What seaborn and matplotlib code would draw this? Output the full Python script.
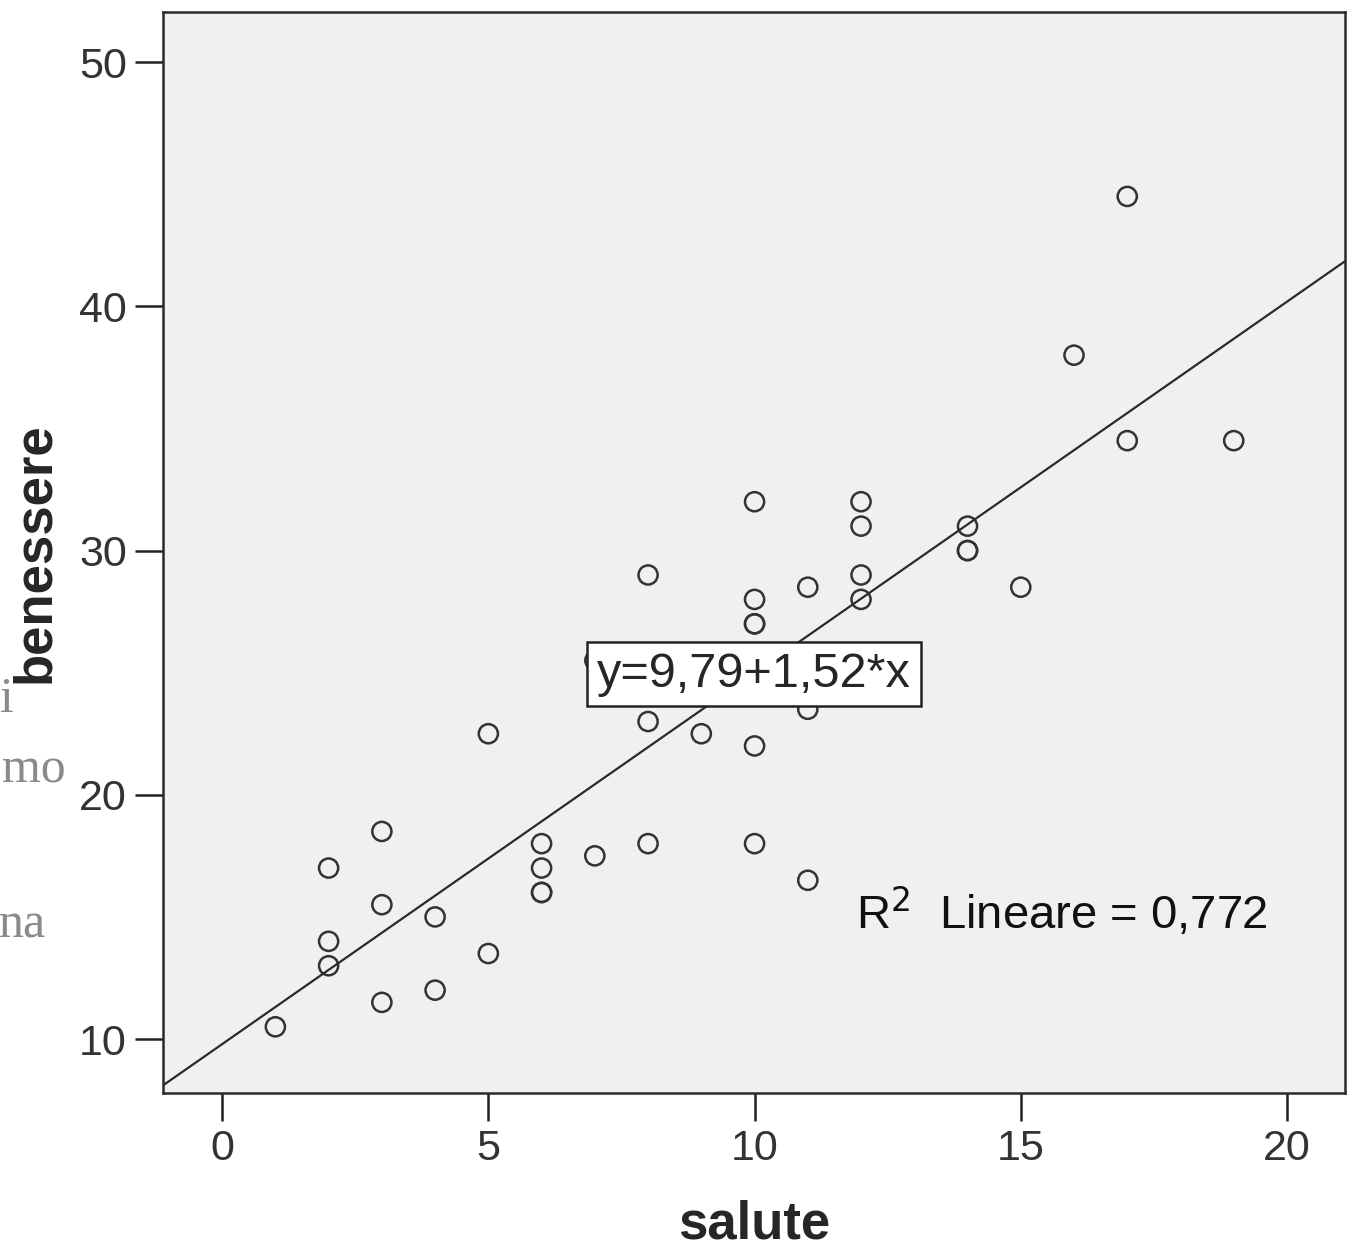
import numpy as np
import pandas as pd
import matplotlib
matplotlib.use("Agg")
import matplotlib.pyplot as plt
import seaborn as sns

# data
salute = [1, 2, 2, 2, 3, 3, 3, 4, 4, 5, 5, 6, 6, 6, 6, 7, 7, 8, 8, 8, 9,
          10, 10, 10, 10, 10, 10, 11, 11, 11, 12, 12, 12, 12, 14, 14, 14,
          15, 16, 17, 17, 19]
benessere = [10.5, 17, 14, 13, 18.5, 15.5, 11.5, 15, 12, 22.5, 13.5, 18, 17,
             16, 16, 17.5, 25.5, 29, 23, 18, 22.5, 32, 28, 27, 27, 22, 18,
             28.5, 23.5, 16.5, 32, 31, 29, 28, 31, 30, 30, 28.5, 38, 44.5,
             34.5, 34.5]
intercept = 9.79
slope = 1.52
r2 = "0,772"
x_ticks = [0, 5, 10, 15, 20]
y_ticks = [10, 20, 30, 40, 50]

df = pd.DataFrame({"salute": salute, "benessere": benessere})

sns.set_style("white")
plt.rcParams["font.family"] = ["Liberation Sans", "DejaVu Sans"]

fig = plt.figure(figsize=(13.53, 12.53), dpi=100)
ax = fig.add_axes([0.1205, 0.1277, 0.8736, 0.8627])
ax.set_facecolor("#f0f0f0")

sns.scatterplot(data=df, x="salute", y="benessere", ax=ax, marker="o",
                s=190, facecolor="none", edgecolor="#333333", linewidth=1.8)
ax.axline((0, intercept), slope=slope, color="#2a2a2a", linewidth=1.6, zorder=1)

ax.set_xlim(-1.11, 21.09)
ax.set_ylim(7.79, 52.05)
ax.set_xticks(x_ticks)
ax.set_yticks(y_ticks)
ax.tick_params(axis="both", direction="out", length=20, width=1.8,
               color="#222222", labelsize=31, labelcolor="#333333", pad=6,
               left=True, bottom=True)
for sp in ax.spines.values():
    sp.set_color("#2a2a2a")
    sp.set_linewidth(1.8)

ax.set_xlabel("salute", fontsize=38, fontweight="bold", labelpad=22)
ax.set_ylabel("benessere", fontsize=38, fontweight="bold", labelpad=14)

ax.text(9.99, 24.94, f"y={intercept:.2f}+{slope:.2f}*x".replace(".", ","),
        fontsize=35, ha="center", va="center", zorder=5,
        bbox=dict(boxstyle="square,pad=0.2", facecolor="white",
                  edgecolor="#222222", linewidth=1.8))
ax.text(11.9, 15.2, f"R$^2$  Lineare = {r2}", fontsize=34, ha="left",
        va="center", color="#111111")

# leftover slide text at the left edge
for txt, xp, ha, yp in [("i", 0, "left", 700), ("mo", 66, "right", 770),
                        ("na", 46, "right", 925)]:
    fig.text(xp / 1353, 1 - yp / 1253, txt, fontsize=36, color="#8a8a8a",
             family="Liberation Serif", ha=ha, va="center")

fig.savefig("out.png", dpi=100)
